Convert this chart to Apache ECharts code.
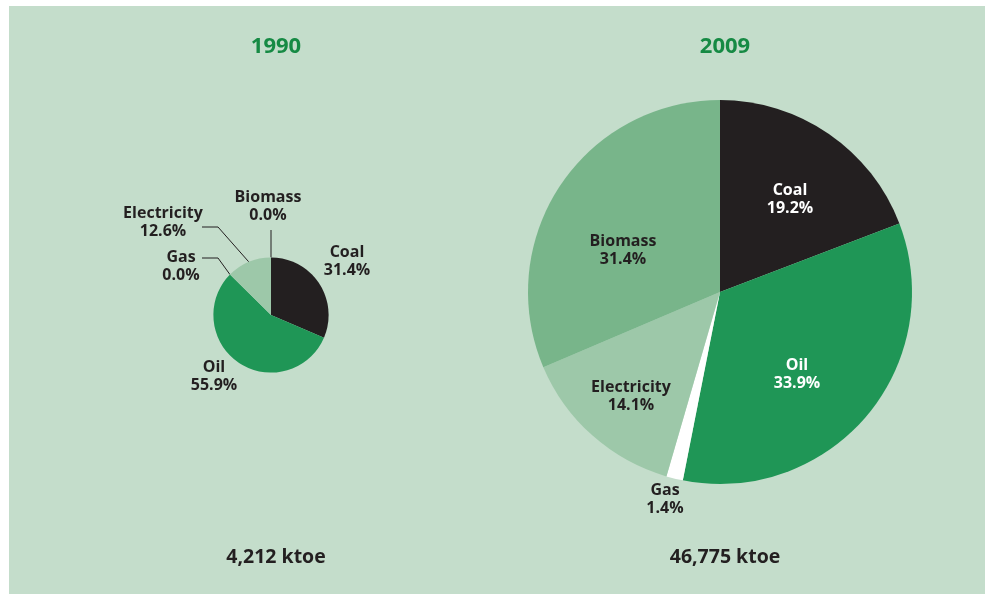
<!DOCTYPE html>
<html>
<head>
<meta charset="utf-8">
<script src="https://cdn.jsdelivr.net/npm/echarts@6/dist/echarts.min.js"></script>
<style>
html,body{margin:0;padding:0;background:#fff;}
#c{width:985px;height:594px;}
</style>
</head>
<body>
<div id="c"></div>
<script>
// ---- data ----
var categories = ['Coal', 'Oil', 'Gas', 'Electricity', 'Biomass'];
var share1990 = [31.4, 55.9, 0.0, 12.6, 0.0];
var share2009 = [19.2, 33.9, 1.4, 14.1, 31.4];
var years = ['1990', '2009'];
var totalKtoe = [4212, 46775];
var totalLabels = ['4,212 ktoe', '46,775 ktoe'];

// ---- style ----
var BG = '#c4ddcb';
var colors = ['#231f20', '#1f9656', '#ffffff', '#9dc8a9', '#78b58a'];
var FONT = 'Open Sans';
var cx = [271, 720], cy = [315, 292];
var bigR = 192;
var radii = [bigR * Math.sqrt(totalKtoe[0] / totalKtoe[1]), bigR];

// label anchors relative to pie centre
var lab1990 = [[76, -54], [-57, 61], [-90, -49], [-108, -93], [-3, -109]];
var line1990 = [null, null, [[-53, -57], [-69, -57]], [[-53, -88], [-69, -88]], [[0, -85]]];
var lab2009 = [[70, -93], [77, 82], [-55, 207], [-89, 104], [-97, -42]];
var lab2009Color = ['#ffffff', '#ffffff', '#231f20', '#231f20', '#231f20'];

function makeData(vals, yearIdx) {
  return categories.map(function (c, i) {
    var item = { name: c, value: vals[i], itemStyle: { color: colors[i] } };
    if (yearIdx === 0) {
      item.labelLine = { show: !!line1990[i] };
    } else {
      item.label = { color: lab2009Color[i] };
    }
    return item;
  });
}

var labelText = {
  fontFamily: FONT, fontWeight: 'bold', fontSize: 16, lineHeight: 18, color: '#231f20',
  formatter: function (p) { return p.name + '\n' + p.value.toFixed(1) + '%'; }
};

var chart = echarts.init(document.getElementById('c'), null, { renderer: 'canvas' });
chart.setOption({
  backgroundColor: '#ffffff',
  animation: false,
  graphic: [{ type: 'rect', z: -10, shape: { x: 9, y: 6, width: 976, height: 588 }, style: { fill: BG } }],
  title: years.map(function (y, i) {
    return {
      text: y, left: cx[i], top: 31, textAlign: 'center',
      textStyle: { fontFamily: FONT, fontWeight: 'bold', fontSize: 22, color: '#168a44' }
    };
  }).concat(totalLabels.map(function (t, i) {
    return {
      text: t, left: cx[i], top: 542, textAlign: 'center',
      textStyle: { fontFamily: FONT, fontWeight: 'bold', fontSize: 19.5, color: '#231f20' }
    };
  })),
  series: [
    {
      type: 'pie', center: [cx[0], cy[0]], radius: radii[0], startAngle: 90, clockwise: true,
      avoidLabelOverlap: false, silent: true,
      label: Object.assign({ show: true, position: 'outside' }, labelText),
      labelLine: { show: true, length: 10, length2: 10, lineStyle: { color: '#231f20', width: 1 } },
      labelLayout: function (p) {
        var i = p.dataIndex;
        var o = { x: cx[0] + lab1990[i][0], y: cy[0] + lab1990[i][1], align: 'center', verticalAlign: 'middle' };
        if (line1990[i] && p.labelLinePoints) {
          var pts = [p.labelLinePoints[0].slice()];
          line1990[i].forEach(function (q) { pts.push([cx[0] + q[0], cy[0] + q[1]]); });
          o.labelLinePoints = pts;
        }
        return o;
      },
      data: makeData(share1990, 0)
    },
    {
      type: 'pie', center: [cx[1], cy[1]], radius: radii[1], startAngle: 90, clockwise: true,
      avoidLabelOverlap: false, silent: true,
      label: Object.assign({ show: true, position: 'inside' }, labelText),
      labelLine: { show: false },
      labelLayout: function (p) {
        var i = p.dataIndex;
        return { x: cx[1] + lab2009[i][0], y: cy[1] + lab2009[i][1], align: 'center', verticalAlign: 'middle' };
      },
      data: makeData(share2009, 1)
    }
  ]
});
</script>
</body>
</html>
